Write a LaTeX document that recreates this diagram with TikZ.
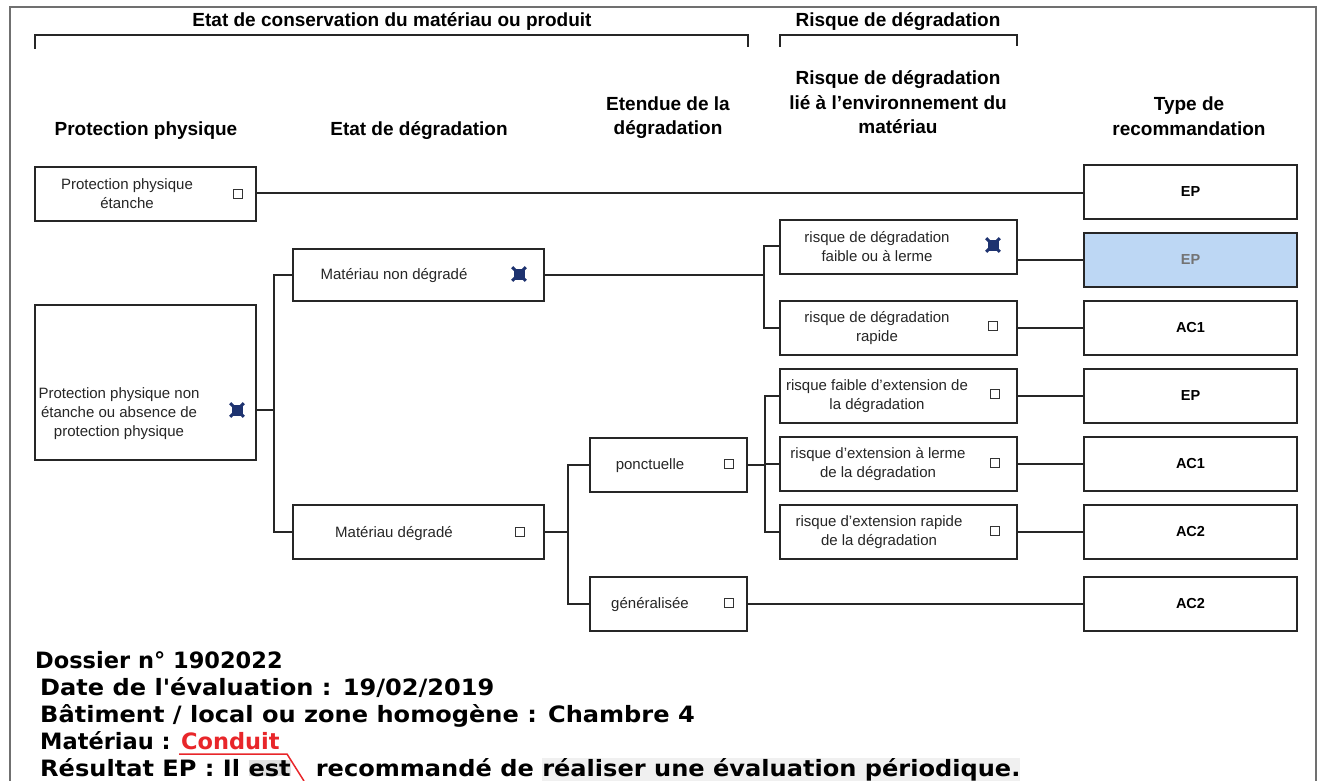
\documentclass[tikz,border=0pt]{standalone}
\usepackage{fontspec}
\setmainfont{Liberation Sans}
\newfontfamily\vfont{DejaVu Sans}
\newfontfamily\vfontw[FakeStretch=1.07]{DejaVu Sans}
\usetikzlibrary{calc}
\definecolor{navy}{HTML}{1E3370}
\definecolor{hlblue}{HTML}{BDD7F4}
\definecolor{redc}{HTML}{E8262A}
\definecolor{framec}{HTML}{707070}
\tikzset{
 box/.style={draw=black!85, line width=1.8pt, fill=white, rectangle, inner sep=0},
 btext/.style={font=\fontsize{15}{19}\selectfont, align=center, inner sep=0, text=black!85},
 hdr/.style={font=\bfseries\fontsize{19}{24.5}\selectfont, align=center, inner sep=0},
 cb/.style={draw=black!80, line width=1.1pt, minimum size=9.5pt, inner sep=0, fill=white},
 cbx/.style={fill=navy, minimum size=11pt, inner sep=0},
 conn/.style={line width=1.7pt, draw=black!85},
 tp/.style={font=\bfseries\fontsize{14.5}{16}\selectfont, inner sep=0},
 bot/.style={font=\vfont\bfseries\fontsize{22.5}{27}\selectfont, anchor=base west, inner sep=0},
 botw/.style={font=\vfontw\bfseries\fontsize{22.5}{27}\selectfont, anchor=base west, inner sep=0},
}
\begin{document}
\begin{tikzpicture}[x=1pt,y=-1pt]
\useasboundingbox (0,0) rectangle (1324,781);
% frame
\draw[framec, line width=1.6pt] (10,781) -- (10,7) -- (1316,7) -- (1316,781);
% brackets
\coordinate (b1a) at (35,49); \coordinate (b1b) at (748,47);
\coordinate (b2a) at (780,47); \coordinate (b2b) at (1017,46);
\draw[black!85, line width=2pt] (b1a) -- (35,35) -- (748,35) -- (b1b);
\draw[black!85, line width=2pt] (b2a) -- (780,35) -- (1017,35) -- (b2b);
\node[hdr] (h0) at (392,22) {Etat de conservation du matériau ou produit};
\node[hdr] (h00) at (898,22) {Risque de dégradation};
% column headers
\node[hdr] (h1) at (146,131) {Protection physique};
\node[hdr] (h2) at (419,131) {Etat de dégradation};
\node[hdr] (h3) at (668,117.5) {Etendue de la\\dégradation};
\node[hdr] (h4) at (898,102.5) {Risque de dégradation\\lié à l'environnement du\\matériau};
\node[hdr] (h5) at (1189,116) {Type de\\recommandation};
% boxes
\node[box, minimum width=221pt, minimum height=54pt] (pa) at (145.5,194) {};
\node[btext] (pat) at (127,194) {Protection physique\\étanche};
\node[cb] (pac) at (238,194) {};
\node[box, minimum width=221pt, minimum height=155pt] (pb) at (145.5,382.5) {};
\node[btext] (pbt) at (119,414) {Protection physique non\\étanche ou absence de\\protection physique};
\node[cbx] (pbc) at (237,410) {};
\node[box, minimum width=251pt, minimum height=52pt] (mnd) at (418.5,275) {};
\node[btext] (mndt) at (394,276) {Matériau non dégradé};
\node[cbx] (mndc) at (519,274) {};
\node[box, minimum width=251pt, minimum height=54pt] (md) at (418.5,532) {};
\node[btext] (mdt) at (394,534) {Matériau dégradé};
\node[cb] (mdc) at (520,532) {};
\node[box, minimum width=157pt, minimum height=54pt] (pon) at (668.5,465) {};
\node[btext] (pont) at (650,466) {ponctuelle};
\node[cb] (ponc) at (729,464) {};
\node[box, minimum width=157pt, minimum height=54pt] (gen) at (668.5,604) {};
\node[btext] (gent) at (650,605) {généralisée};
\node[cb] (genc) at (729,603) {};
% risk boxes
\node[box, minimum width=237pt, minimum height=54pt] (r1) at (898.5,247) {};
\node[btext] (r1t) at (877,247) {risque de dégradation\\faible ou à lerme};
\node[cbx] (r1c) at (993,245) {};
\node[box, minimum width=237pt, minimum height=54pt] (r2) at (898.5,328) {};
\node[btext] (r2t) at (877,328) {risque de dégradation\\rapide};
\node[cb] (r2c) at (993,326) {};
\node[box, minimum width=237pt, minimum height=54pt] (r3) at (898.5,396) {};
\node[btext] (r3t) at (877,396) {risque faible d'extension de\\la dégradation};
\node[cb] (r3c) at (995,394) {};
\node[box, minimum width=237pt, minimum height=54pt] (r4) at (898.5,464) {};
\node[btext] (r4t) at (878,464) {risque d'extension à lerme\\de la dégradation};
\node[cb] (r4c) at (995,463) {};
\node[box, minimum width=237pt, minimum height=54pt] (r5) at (898.5,532) {};
\node[btext] (r5t) at (879,532) {risque d'extension rapide\\de la dégradation};
\node[cb] (r5c) at (995,531) {};
% checked marks
\foreach \c in {pbc,mndc,r1c}{
  \draw[navy, line width=3pt, shorten <=-1.5pt, shorten >=-1.5pt] (\c.north west) -- (\c.south east);
  \draw[navy, line width=3pt, shorten <=-1.5pt, shorten >=-1.5pt] (\c.north east) -- (\c.south west);
}
% type boxes
\node[box, minimum width=213pt, minimum height=54pt] (t1) at (1190.5,192) {};
\node[tp] (t1t) at (1190.5,192) {EP};
\node[box, fill=hlblue, minimum width=213pt, minimum height=54pt] (t2) at (1190.5,260) {};
\node[tp, text=black!55] (t2t) at (1190.5,260) {EP};
\node[box, minimum width=213pt, minimum height=54pt] (t3) at (1190.5,328) {};
\node[tp] (t3t) at (1190.5,328) {AC1};
\node[box, minimum width=213pt, minimum height=54pt] (t4) at (1190.5,396) {};
\node[tp] (t4t) at (1190.5,396) {EP};
\node[box, minimum width=213pt, minimum height=54pt] (t5) at (1190.5,464) {};
\node[tp] (t5t) at (1190.5,464) {AC1};
\node[box, minimum width=213pt, minimum height=54pt] (t6) at (1190.5,532) {};
\node[tp] (t6t) at (1190.5,532) {AC2};
\node[box, minimum width=213pt, minimum height=54pt] (t7) at (1190.5,604) {};
\node[tp] (t7t) at (1190.5,604) {AC2};
% connectors
\draw[conn] (pa.east |- 0,193) -- (t1.west |- 0,193);
\coordinate (pbo) at (pb.east |- 0,410);
\draw[conn] (pbo) -- (274,410);
\draw[conn] (mnd.west) -| (274,275) |- (md.west);
\draw[conn] (mnd.east) -- (764,275);
\draw[conn] (r1.west |- 0,246) -| (764,246) |- (r2.west);
\draw[conn] (r1.east |- t2.west) -- (t2.west);
\draw[conn] (r2.east) -- (t3.west);
\draw[conn] (md.east) -- (568,532);
\draw[conn] (pon.west) -| (568,465) |- (gen.west);
\draw[conn] (pon.east) -- (765,465);
\draw[conn] (r3.west) -| (765,396) |- (r5.west);
\draw[conn] (r4.west) -- (765,464);
\draw[conn] (r3.east) -- (t4.west);
\draw[conn] (r4.east) -- (t5.west);
\draw[conn] (r5.east) -- (t6.west);
\draw[conn] (gen.east) -- (t7.west);
% bottom text
\setlength{\fboxsep}{0pt}
\node[bot] (l1) at (35,668) {Dossier n° 1902022};
\node[botw] (l2) at (40,695) {Date de l'évaluation : 19/02/2019};
\node[botw] (l3) at (40,722) {Bâtiment / local ou zone homogène : Chambre 4};
\node[bot] (l4) at (40,749) {Matériau : \textcolor{redc}{Conduit}};
\node[botw] (l5) at (40,776) {Résultat EP : Il \colorbox{black!12}{est}\ \ \ recommandé de \colorbox{black!6}{réaliser une évaluation périodique.}};
\coordinate (u1) at (179,754); \coordinate (u2) at (287,754); \coordinate (u3) at (304,781);
\draw[redc, line width=1.5pt] (u1) -- (u2) -- (u3);
\end{tikzpicture}
\end{document}
